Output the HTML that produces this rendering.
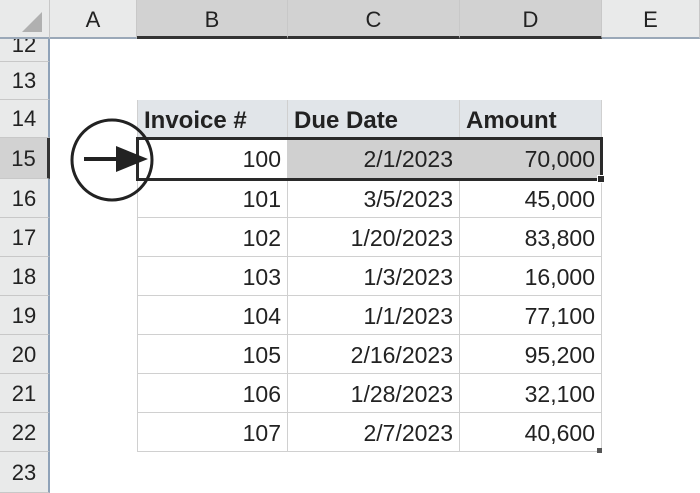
<!DOCTYPE html>
<html><head><meta charset="utf-8"><style>
body{margin:0;width:700px;height:493px;overflow:hidden;background:#fff;font-family:"Liberation Sans",sans-serif;position:relative}
div{position:absolute;box-sizing:border-box}
.ch{top:0;height:39px;background:#e9eaea;border-right:1px solid #c8c8c8;font-size:22px;color:#222;text-align:center;line-height:39px;border-bottom:2px solid #9aa8b8}
.ch.sel{background:#d2d2d2;border-bottom:3px solid #333}
.rh{left:0;width:50px;background:#e9eaea;border-bottom:1px solid #c8c8c8;border-right:2px solid #8fa2b8;font-size:22px;color:#222;text-align:center}
.rh.sel{background:#d2d2d2;border-right:3px solid #333}
.c{border-right:1px solid #d0d0d0;border-bottom:1px solid #d0d0d0;font-size:23px;color:#222;text-align:right;padding-right:6px;white-space:nowrap}
.h{background:#e1e5e9;font-weight:bold;text-align:left;padding-left:6px;font-size:24px}
</style></head><body>
<div style="left:0;top:0;width:50px;height:39px;background:#e9eaea;border-right:1px solid #c8c8c8;border-bottom:2px solid #9aa8b8"><svg width="50" height="39"><polygon points="42,12 42,32 22,32" fill="#b0b0b0"/></svg></div>
<div class="ch" style="left:50px;width:87px">A</div>
<div class="ch sel" style="left:137px;width:151px">B</div>
<div class="ch sel" style="left:288px;width:172px">C</div>
<div class="ch sel" style="left:460px;width:142px">D</div>
<div class="ch" style="left:602px;width:98px">E</div>
<script>
const rows=[12,13,14,15,16,17,18,19,20,21,22,23];
const tops=[39,62,100,138,179,218,257,296,335,374,413,452];
const invoices=[100,101,102,103,104,105,106,107];
const dates=["2/1/2023","3/5/2023","1/20/2023","1/3/2023","1/1/2023","2/16/2023","1/28/2023","2/7/2023"];
const amounts=["70,000","45,000","83,800","16,000","77,100","95,200","32,100","40,600"];
const b=document.body;
function mk(cls,style,txt){const d=document.createElement('div');d.className=cls;d.setAttribute('style',style);d.textContent=txt;b.appendChild(d);return d;}
rows.forEach((r,i)=>{
 const t=tops[i],h=(i<rows.length-1?tops[i+1]:493)-t;
 const d=mk('rh'+(r===15?' sel':''),`top:${t}px;height:${h}px;line-height:${h}px;overflow:hidden;`,r===12?'':String(r));
 if(r===12){d.innerHTML='<span style="position:absolute;left:0;right:0;top:-14px;line-height:39px">12</span>';}
 
 
});
const cols=[[137,151],[288,172],[460,142]];
const heads=["Invoice #","Due Date","Amount"];
heads.forEach((h,j)=>{
 const d=mk('c h',`left:${cols[j][0]}px;top:100px;width:${cols[j][1]}px;height:38px;line-height:42px;${j===0?'border-left:1px solid #d0d0d0;':''}`,h);
 
 
});
invoices.forEach((inv,i)=>{
 const t=tops[i+3],h=tops[i+4]-t;
 const vals=[inv,dates[i],amounts[i]];
 vals.forEach((v,j)=>{
  const bg=(i===0&&j>0)?'background:#d0d0d0;':'';
  const bl=j===0?'border-left:1px solid #d0d0d0;':'';
  const d=mk('c',`left:${cols[j][0]}px;top:${t}px;width:${cols[j][1]}px;height:${h}px;line-height:${h+2}px;${bg}${bl}`,String(v));
  
  
 });
});
</script>
<div style="left:136px;top:137px;width:467px;height:44px;border:3px solid #2a2a2a"></div>
<div style="left:597px;top:175px;width:8px;height:8px;background:#2a2a2a;border:1px solid #fff"></div>
<div style="left:597px;top:448px;width:5px;height:5px;background:#555"></div>
<svg style="position:absolute;left:0;top:0" width="700" height="493">
<circle cx="112" cy="160" r="40" fill="none" stroke="#222" stroke-width="3"/>
<line x1="84" y1="159" x2="122" y2="159" stroke="#222" stroke-width="4"/>
<polygon points="116,146 148,159 116,172" fill="#222"/>
</svg>
</body></html>
